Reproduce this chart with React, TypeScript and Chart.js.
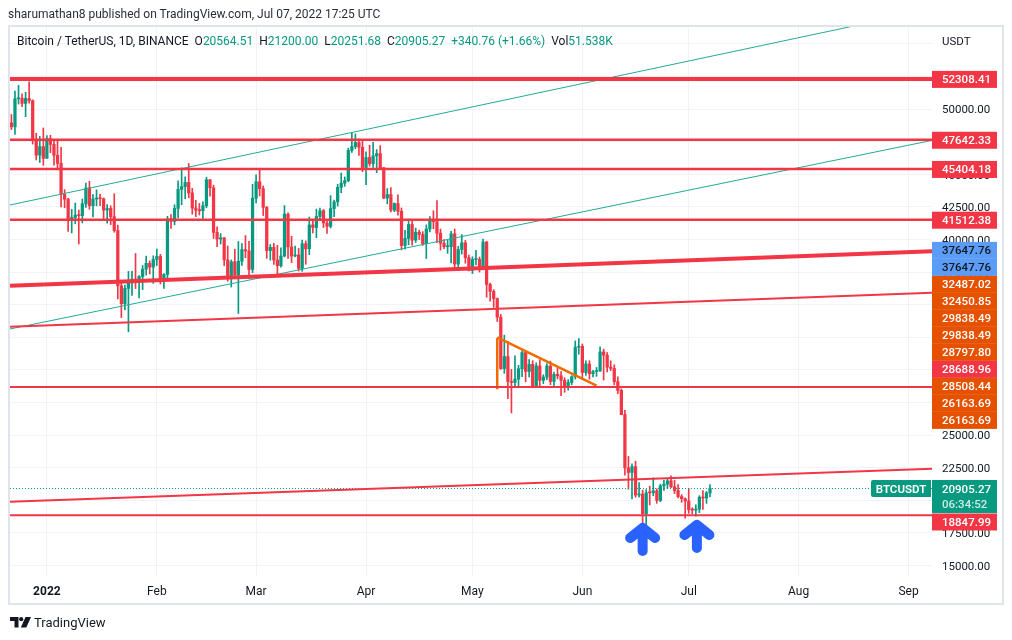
import { useEffect, useRef } from 'react';
import { Chart, registerables } from 'chart.js';

Chart.register(...registerables);

// ---------- data ----------
// first candle: Dec 22, 2021 (day index relative to Jan 1, 2022)
const FIRST_DAY = -10;

const OPEN = [
  // Dec
  48937, 48629, 50784, 50822, 50429, 50809, 50640, 47588, 46464, 47120,
  // Jan
  46216, 47722, 47287, 46446, 45833, 43451, 43082, 41566, 41680, 41864, 41822, 42736, 43949, 42592, 43099, 43177,
  43114, 42250, 42375, 41744, 40680, 36445, 35071, 36244, 36660, 36958, 36809, 37160, 37716, 38166, 37881,
  // Feb
  38466, 38694, 36897, 37311, 41574, 41382, 42380, 43839, 44043, 44373, 43565, 42408, 42244, 42197, 42586, 44575,
  43962, 40539, 40030, 40122, 38431, 37075, 38286, 37296, 38328, 39219, 39116, 37700,
  // Mar
  43160, 44421, 43892, 42455, 39148, 39397, 38420, 37988, 38730, 41941, 39422, 38730, 38807, 37777, 39671, 39281,
  41114, 40917, 41757, 42201, 41262, 41002, 42364, 42882, 43991, 44313, 44511, 46827, 47122, 47434, 47067,
  // Apr
  45510, 46283, 45811, 46407, 46580, 45498, 43170, 43444, 42252, 42753, 42158, 39530, 40074, 41147, 39942, 40552,
  40378, 39678, 40801, 41493, 41358, 40480, 39709, 39441, 39450, 40427, 38112, 39235, 39742, 38596,
  // May
  37630, 38468, 38469, 37716, 39803, 36548, 36014, 35468, 34038, 30100, 31017, 29103, 29030, 29287, 30086, 31329,
  29875, 30426, 28716, 30297, 29201, 29446, 30294, 29110, 29655, 29543, 29202, 28630, 29031, 29469, 31735,
  // Jun
  31802, 29800, 30452, 29700, 29865, 29920, 31373, 31126, 30205, 30110, 29092, 28424, 26575, 22487, 22136, 22584,
  20401, 20469, 18970, 20575, 20573, 20724, 19988, 21110, 21237, 21491, 21038, 20742, 20281, 20123,
  // Jul
  19942, 19279, 19252, 19315, 20236, 20175, 20564.51,
];

const HIGH = [
  49576, 51375, 51810, 51156, 51280, 52088, 50704, 48139, 47900, 48548,
  47954, 47990, 47570, 47557, 47070, 43817, 43145, 42300, 42786, 42248, 43100, 44322, 44459, 43448, 43800, 43478,
  43179, 42675, 42579, 43505, 41100, 36835, 36500, 37550, 37545, 38919, 37234, 38000, 38720, 38360, 38744,
  39265, 38855, 37387, 41772, 41913, 42657, 44500, 45492, 44799, 45821, 43920, 43000, 42760, 42876, 44775, 44585,
  44164, 40959, 40444, 40150, 39494, 38429, 39249, 39843, 39683, 40300, 39855, 44226,
  44950, 45400, 44101, 42527, 39613, 39693, 39547, 39362, 42594, 42039, 40236, 39486, 39310, 39947, 39887, 41718,
  41478, 42325, 42400, 42296, 41544, 43361, 43025, 44220, 45094, 44792, 46999, 48189, 48096, 47700, 47600,
  46720, 47213, 47444, 46890, 47200, 45507, 43900, 43970, 42800, 43410, 42414, 40699, 41561, 41500, 40870, 40709,
  40595, 41116, 41760, 42199, 42976, 40795, 39980, 39940, 40617, 40797, 39474, 40372, 39925, 38795,
  38675, 39167, 38650, 40023, 39845, 36650, 36146, 35510, 34243, 32659, 32190, 30032, 31083, 30343, 31460, 31330,
  30788, 30700, 30545, 30777, 29625, 30487, 30670, 29834, 30223, 29875, 29400, 29258, 29556, 32222, 32399,
  31982, 30690, 30699, 29955, 30180, 31765, 31589, 31330, 30700, 30385, 29469, 28544, 26895, 23363, 22800, 22995,
  21366, 20777, 20815, 21078, 21723, 20880, 21234, 21558, 21614, 21869, 21540, 21200, 20432, 20179,
  20900, 19432, 19653, 20354, 20750, 20675, 21200.0,
];

const LOW = [
  48421, 48048, 50384, 50188, 49412, 50449, 47313, 46096, 45900, 45678,
  46208, 46654, 45696, 45501, 42500, 42431, 40610, 40502, 41200, 39650, 41269, 42450, 42311, 41725, 42573, 42581,
  41540, 41250, 41139, 40553, 35440, 34008, 34601, 32917, 35701, 36234, 35507, 36155, 37268, 37351, 36633,
  38000, 36586, 36250, 37000, 40843, 41116, 41645, 42667, 43117, 43188, 41938, 41748, 41870, 41571, 42428, 43311,
  40073, 39450, 39639, 38000, 36800, 36350, 37036, 34322, 38014, 38600, 37000, 37450,
  42800, 43335, 41832, 38550, 38407, 38088, 37155, 37867, 38656, 38539, 38224, 38660, 37578, 37555, 38098, 38828,
  40500, 40135, 41499, 40911, 40468, 40875, 41751, 42560, 43579, 44071, 44422, 46663, 46950, 46445, 45200,
  44200, 45620, 45530, 45118, 45353, 43121, 42727, 42107, 42125, 41868, 39200, 39254, 39588, 39551, 39766, 39991,
  39546, 38536, 40571, 40820, 39751, 39177, 39285, 38929, 38200, 37702, 37867, 38881, 38175, 37578,
  37386, 38052, 37500, 37670, 35571, 35258, 34785, 33713, 30033, 29730, 27785, 26700, 28751, 28630, 29480, 29087,
  29450, 28654, 28693, 28730, 28947, 29255, 28866, 28683, 29311, 28019, 28282, 28450, 28850, 29300, 31200,
  29300, 29570, 29282, 29450, 29500, 29880, 29218, 29843, 29944, 28850, 28170, 26560, 21925, 20846, 20111, 20232,
  20246, 17622, 17961, 19637, 20348, 19770, 19890, 20758, 20906, 20960, 20510, 20183, 19850, 18626,
  19000, 18975, 18782, 19055, 19305, 19764, 20251.68,
];

const CLOSE = [
  48629, 50784, 50822, 50429, 50809, 50640, 47588, 46464, 47120, 46216,
  47722, 47287, 46446, 45833, 43451, 43082, 41566, 41680, 41864, 41822, 42736, 43949, 42592, 43099, 43177, 43114,
  42250, 42375, 41744, 40680, 36445, 35071, 36244, 36660, 36958, 36809, 37160, 37716, 38166, 37881, 38466,
  38694, 36897, 37311, 41574, 41382, 42380, 43839, 44043, 44373, 43565, 42408, 42244, 42197, 42586, 44575, 43962,
  40539, 40030, 40122, 38431, 37075, 38286, 37296, 38328, 39219, 39116, 37700, 43160,
  44421, 43892, 42455, 39148, 39397, 38420, 37988, 38730, 41941, 39422, 38730, 38807, 37777, 39671, 39281, 41114,
  40917, 41757, 42201, 41262, 41002, 42364, 42882, 43991, 44313, 44511, 46827, 47122, 47434, 47067, 45510,
  46283, 45811, 46407, 46580, 45498, 43170, 43444, 42252, 42753, 42158, 39530, 40074, 41147, 39942, 40552, 40378,
  39678, 40801, 41493, 41358, 40480, 39709, 39441, 39450, 40427, 38112, 39235, 39742, 38596, 37630,
  38468, 38469, 37716, 39803, 36548, 36014, 35468, 34038, 30100, 31017, 29103, 29030, 29287, 30086, 31329, 29875,
  30426, 28716, 30297, 29201, 29446, 30294, 29110, 29655, 29543, 29202, 28630, 29031, 29469, 31735, 31802,
  29800, 30452, 29700, 29865, 29920, 31373, 31126, 30205, 30110, 29092, 28424, 26575, 22487, 22136, 22584, 20401,
  20469, 18970, 20575, 20573, 20724, 19988, 21110, 21237, 21491, 21038, 20742, 20281, 20123, 19942,
  19279, 19252, 19315, 20236, 20175, 20564.51, 20905.27,
];

const CURRENT_PRICE = 20905.27;
const COUNTDOWN = '06:34:52';

// time axis (days from Jan 1, 2022)
const X_MIN = -10.4;
const X_MAX = 249.6;
const MONTH_TICKS = [0, 31, 59, 90, 120, 151, 181, 212, 243];
const MONTH_LABELS = ['2022', 'Feb', 'Mar', 'Apr', 'May', 'Jun', 'Jul', 'Aug', 'Sep'];

// price axis
const Y_MIN = 14118;
const Y_MAX = 56364;
const PRICE_TICKS = [15000, 17500, 20000, 22500, 25000, 27500, 30000, 32500, 35000, 37500, 40000, 42500, 45000, 47500, 50000, 52500, 55000];

// horizontal support / resistance levels
const RED_LEVELS = [52308.41, 47642.33, 45404.18, 41512.38, 28688.96, 18847.99];
// red trend lines [day1, price1, day2, price2]
const RED_TRENDS = [
  [X_MIN, 36453, X_MAX, 39098],
  [X_MIN, 33309, X_MAX, 35908],
  [X_MIN, 19884, X_MAX, 22414],
];
// green channel lines
const GREEN_TRENDS = [
  [X_MIN, 42640, X_MAX, 57637],
  [X_MIN, 33133, X_MAX, 47593],
];
// orange triangle drawing
const ORANGE_LINES = [
  [127, 32450.85, 127, 28508.44],
  [127, 32487.02, 155, 28797.8],
];
// blue arrows [day, price at arrow tip]
const ARROWS = [
  [168, 18259],
  [183.3, 18489],
];

// price scale labels
const AXIS_LABELS = [52308.41, 47642.33, 45404.18, 41512.38, 37647.76, 37647.76, 32487.02, 32450.85, 29838.49, 29838.49, 28797.8, 28688.96, 28508.44, 26163.69, 26163.69, 18847.99];
const AXIS_LABEL_KIND = ['red', 'red', 'red', 'red', 'blue', 'blue', 'orange', 'orange', 'orange', 'orange', 'orange', 'red', 'orange', 'orange', 'orange', 'red'];

// ---------- styles ----------
const GREEN = '#089981';
const RED = '#f23645';
const ORANGE_LINE = '#ef6c00';
const ORANGE_BOX = '#e65100';
const BLUE_BOX = '#5b9cf6';
const TEAL = '#22ab94';
const TEXT = '#131722';
const GRID = '#f0f3fa';
const FONT = 'Roboto, "Liberation Sans", sans-serif';

const KIND_COLORS: Record<string, { bg: string; fg: string }> = {
  red: { bg: RED, fg: '#ffffff' },
  blue: { bg: BLUE_BOX, fg: TEXT },
  orange: { bg: ORANGE_BOX, fg: '#ffffff' },
};

function lineDataset(seg: number[], color: string, width: number, dash: number[] = []) {
  return {
    type: 'line' as const,
    data: [
      { x: seg[0], y: seg[1] },
      { x: seg[2], y: seg[3] },
    ],
    borderColor: color,
    borderWidth: width,
    borderDash: dash,
    pointRadius: 0,
    fill: false,
    tension: 0,
    order: 0,
  };
}

const overlayPlugin = {
  id: 'tvOverlay',
  beforeDraw(chart: any) {
    const { ctx } = chart;
    ctx.save();
    ctx.fillStyle = '#ffffff';
    ctx.fillRect(0, 0, chart.width, chart.height);
    ctx.restore();
  },
  afterDatasetsDraw(chart: any) {
    const { ctx } = chart;
    const xs = chart.scales.x;
    const ys = chart.scales.y;
    ctx.save();
    ctx.strokeStyle = '#2962ff';
    ctx.lineWidth = 10;
    ctx.lineCap = 'round';
    ctx.lineJoin = 'round';
    for (const [d, p] of ARROWS) {
      const cx = xs.getPixelForValue(d);
      const top = ys.getPixelForValue(p);
      ctx.beginPath();
      ctx.moveTo(cx - 12.5, top + 15);
      ctx.lineTo(cx, top + 5);
      ctx.lineTo(cx + 12.5, top + 15);
      ctx.moveTo(cx, top + 6);
      ctx.lineTo(cx, top + 28);
      ctx.stroke();
    }
    ctx.restore();
  },
  afterDraw(chart: any) {
    const { ctx, chartArea } = chart;
    const xs = chart.scales.x;
    const ys = chart.scales.y;
    ctx.save();

    // frame
    ctx.strokeStyle = '#e0e3eb';
    ctx.lineWidth = 2;
    ctx.strokeRect(chartArea.left - 1, chartArea.top, ys.right - chartArea.left + 1, xs.bottom - chartArea.top - 1);

    // currency caption
    ctx.font = `11.5px ${FONT}`;
    ctx.fillStyle = TEXT;
    ctx.textBaseline = 'middle';
    ctx.textAlign = 'left';
    ctx.fillText('USDT', ys.left + 10, chartArea.top + 16);

    const h = 17;
    const boxX = ys.left;
    const boxW = 65;
    const cur = ys.getPixelForValue(CURRENT_PRICE);
    const curTop = cur - h / 2;
    const curBottom = curTop + 33;

    const items = AXIS_LABELS.map((p, i) => ({ p, kind: AXIS_LABEL_KIND[i], y: ys.getPixelForValue(p) }));
    const above = items.filter((it) => it.p > CURRENT_PRICE).sort((a, b) => a.p - b.p);
    let limit = curTop;
    for (const it of above) {
      it.y = Math.min(it.y, limit - h / 2);
      limit = it.y - h / 2;
    }
    const below = items.filter((it) => it.p < CURRENT_PRICE).sort((a, b) => b.p - a.p);
    let limit2 = curBottom;
    for (const it of below) {
      it.y = Math.max(it.y, limit2 + h / 2);
      limit2 = it.y + h / 2;
    }

    ctx.font = `500 11.5px ${FONT}`;
    for (const it of items) {
      const c = KIND_COLORS[it.kind];
      ctx.fillStyle = c.bg;
      ctx.fillRect(boxX, it.y - h / 2 + 0.5, boxW, h);
      ctx.fillStyle = c.fg;
      ctx.fillText(it.p.toFixed(2), boxX + 10, it.y + 1.5);
    }

    // current price
    ctx.fillStyle = GREEN;
    ctx.fillRect(boxX, curTop, boxW, 33);
    ctx.fillStyle = '#ffffff';
    ctx.fillText(CURRENT_PRICE.toFixed(2), boxX + 10, cur + 1.5);
    ctx.fillStyle = 'rgba(255,255,255,0.8)';
    ctx.fillText(COUNTDOWN, boxX + 10, cur + 17);

    ctx.fillStyle = GREEN;
    ctx.beginPath();
    const bx = boxX - 61;
    ctx.moveTo(bx + 2, curTop);
    ctx.lineTo(boxX - 1, curTop);
    ctx.lineTo(boxX - 1, curTop + h);
    ctx.lineTo(bx + 2, curTop + h);
    ctx.quadraticCurveTo(bx, curTop + h, bx, curTop + h - 2);
    ctx.lineTo(bx, curTop + 2);
    ctx.quadraticCurveTo(bx, curTop, bx + 2, curTop);
    ctx.fill();
    ctx.fillStyle = '#ffffff';
    ctx.font = `600 11.5px ${FONT}`;
    ctx.textAlign = 'center';
    ctx.fillText('BTCUSDT', bx + 30, cur + 1.5);

    ctx.restore();
  },
};

export default function App() {
  const ref = useRef<HTMLCanvasElement | null>(null);

  useEffect(() => {
    document.body.style.margin = '0';
    const canvas = ref.current;
    if (!canvas) return;

    const colors = CLOSE.map((c, i) => (c >= OPEN[i] ? GREEN : RED));
    const bodies = CLOSE.map((c, i) => ({ x: FIRST_DAY + i, y: [Math.min(OPEN[i], c), Math.max(OPEN[i], c)] }));
    const wicks = CLOSE.map((_, i) => ({ x: FIRST_DAY + i, y: [LOW[i], HIGH[i]] }));

    const levelWidths = [4, 2.5, 2.5, 2.5, 2, 2];
    const trendWidths = [4, 2, 2];

    const datasets: any[] = [
      ...RED_LEVELS.map((p, i) => lineDataset([X_MIN, p, X_MAX, p], RED, levelWidths[i])),
      ...RED_TRENDS.map((s, i) => lineDataset(s, RED, trendWidths[i])),
      ...GREEN_TRENDS.map((s) => lineDataset(s, TEAL, 1)),
      ...ORANGE_LINES.map((s) => lineDataset(s, ORANGE_LINE, 2.5)),
      lineDataset([X_MIN, CURRENT_PRICE, X_MAX, CURRENT_PRICE], GREEN, 1, [1, 2]),
      {
        type: 'bar',
        data: bodies,
        backgroundColor: colors,
        barThickness: 2.6,
        grouped: false,
        minBarLength: 1,
        borderWidth: 0,
        order: 1,
      },
      {
        type: 'bar',
        data: wicks,
        backgroundColor: colors,
        barThickness: 1,
        grouped: false,
        borderWidth: 0,
        order: 2,
      },
    ];

    const chart = new Chart(canvas, {
      type: 'bar',
      data: { datasets },
      options: {
        responsive: false,
        animation: false,
        events: [],
        layout: { padding: { left: 10, top: 26, right: 9, bottom: 35 } },
        plugins: { legend: { display: false }, tooltip: { enabled: false }, title: { display: false } },
        scales: {
          x: {
            type: 'linear',
            min: X_MIN,
            max: X_MAX,
            offset: false,
            grid: { color: GRID, drawTicks: false, offset: false },
            border: { display: false },
            ticks: {
              padding: 8,
              autoSkip: false,
              maxRotation: 0,
              color: TEXT,
              font: (c: any) => ({ family: FONT, size: 12, weight: c.tick && c.tick.value === 0 ? 'bold' : 'normal' }),
              callback: (v: any) => {
                const i = MONTH_TICKS.indexOf(Number(v));
                return i >= 0 ? MONTH_LABELS[i] : '';
              },
            },
            afterBuildTicks: (s: any) => {
              s.ticks = MONTH_TICKS.map((v) => ({ value: v }));
            },
            afterFit: (s: any) => {
              s.height = 28;
            },
          },
          y: {
            type: 'linear',
            position: 'right',
            min: Y_MIN,
            max: Y_MAX,
            beginAtZero: false,
            grid: { color: GRID, drawTicks: false },
            border: { display: false },
            ticks: {
              padding: 10,
              labelOffset: 1.5,
              autoSkip: false,
              color: TEXT,
              font: { family: FONT, size: 11.5 },
              callback: (v: any) => (Number(v) >= 55000 ? '' : Number(v).toFixed(2)),
            },
            afterBuildTicks: (s: any) => {
              s.ticks = PRICE_TICKS.map((v) => ({ value: v }));
            },
            afterFit: (s: any) => {
              s.width = 71;
            },
          },
        },
      } as any,
      plugins: [overlayPlugin],
    });

    return () => chart.destroy();
  }, []);

  const green = { color: GREEN };
  const item = { marginLeft: 6 };

  return (
    <div style={{ position: 'absolute', left: 0, top: 0, width: 1012, height: 640, background: '#fff', fontFamily: FONT, color: TEXT, overflow: 'hidden' }}>
      <canvas ref={ref} width={1012} height={640} style={{ position: 'absolute', left: 0, top: 0, width: 1012, height: 640 }} />
      <div style={{ position: 'absolute', left: 8, top: 7, fontSize: 12, lineHeight: '14px', whiteSpace: 'nowrap', color: '#2a2e39' }}>
        sharumathan8 published on TradingView.com, Jul 07, 2022 17:25 UTC
      </div>
      <div style={{ position: 'absolute', left: 17, top: 34, fontSize: 12, lineHeight: '14px', whiteSpace: 'nowrap' }}>
        <span>Bitcoin / TetherUS, 1D, BINANCE</span>
        <span style={item}>O<span style={green}>20564.51</span></span>
        <span style={item}>H<span style={green}>21200.00</span></span>
        <span style={item}>L<span style={green}>20251.68</span></span>
        <span style={item}>C<span style={green}>20905.27</span></span>
        <span style={{ ...item, ...green }}>+340.76 (+1.66%)</span>
        <span style={item}>Vol<span style={green}>51.538K</span></span>
      </div>
      <div style={{ position: 'absolute', left: 10, top: 614, height: 16, display: 'flex', alignItems: 'center', whiteSpace: 'nowrap' }}>
        <svg width="21" height="11" viewBox="0 0 21 11" style={{ marginRight: 3 }}>
          <path d="M0 0 H8.5 V10.5 H4.5 V4 H0 Z" fill={TEXT} />
          <circle cx="11.2" cy="2.2" r="2.1" fill={TEXT} />
          <path d="M15.5 0 H21 L16.3 10.5 H10.8 Z" fill={TEXT} />
        </svg>
        <span style={{ fontSize: 13 }}>TradingView</span>
      </div>
    </div>
  );
}
